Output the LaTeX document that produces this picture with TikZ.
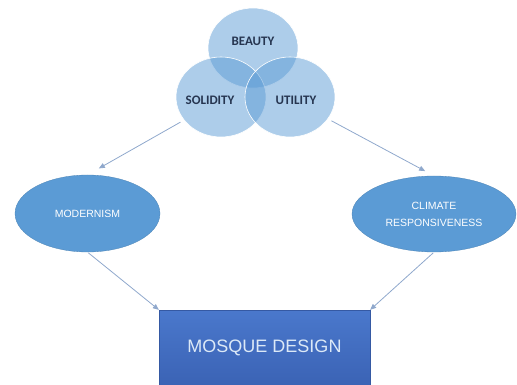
\documentclass[tikz,border=0pt]{standalone}
\usepackage{fontspec}
\setmainfont{Liberation Sans}
\newfontfamily\calib{Carlito}
\usetikzlibrary{arrows.meta,shapes.geometric}
\definecolor{circfill}{HTML}{5B9BD5}
\definecolor{ellfill}{HTML}{5B9BD5}
\definecolor{boxtop}{HTML}{4A78CC}
\definecolor{boxbot}{HTML}{3B63B5}
\definecolor{arrowc}{HTML}{8FA8CC}
\definecolor{circtext}{HTML}{263550}
\definecolor{boxtext}{HTML}{DCE9F7}
\tikzset{
  venn/.style={ellipse, minimum width=90pt, minimum height=80pt, inner sep=0pt,
    fill=circfill, fill opacity=0.5, draw=white, line width=0.6pt},
  venntext/.style={font=\calib\bfseries\fontsize{13}{15}\selectfont, text=circtext, inner sep=0pt},
  bigell/.style={ellipse, fill=ellfill, draw=ellfill!85!black, line width=0.3pt, inner sep=0pt,
    text=white, font=\fontsize{10.5}{17}\selectfont, align=center},
  conn/.style={draw=arrowc, line width=0.8pt, -{Triangle[length=6pt,width=5pt]}},
  designbox/.style={rectangle, minimum width=211pt, minimum height=75pt, inner sep=0pt,
    top color=boxtop, bottom color=boxbot, draw=boxbot!90!black, line width=0.3pt,
    text=boxtext, font=\fontsize{18}{20}\selectfont}
}
\begin{document}
\begin{tikzpicture}[x=1pt,y=-1pt]
\useasboundingbox (0,0) rectangle (517,385);
\node[venn] (beauty) at (253,48) {};
\node[venn] (sol) at (221,97) {};
\node[venn] (util) at (290,97) {};
\node[venntext] (tb) at (253,41) {BEAUTY};
\node[venntext] (ts) at (210,100) {SOLIDITY};
\node[venntext] (tu) at (296,100) {UTILITY};
\node[bigell, minimum width=145pt, minimum height=77pt] (mod) at (87.5,213.5) {MODERNISM};
\node[bigell, minimum width=164pt, minimum height=76pt] (clim) at (434,214) {CLIMATE\\RESPONSIVENESS};
\node[designbox] (design) at (264.5,347.5) {MOSQUE DESIGN};
\draw[conn, shorten <=4pt, shorten >=13pt] (sol.212) -- (mod.north);
\draw[conn, shorten <=4pt, shorten >=10pt] (util.330) -- (clim.north);
\draw[conn, shorten <=1pt] (mod.south) -- (design.north west);
\draw[conn, shorten <=1pt] (clim.south) -- (design.north east);
\end{tikzpicture}
\end{document}
